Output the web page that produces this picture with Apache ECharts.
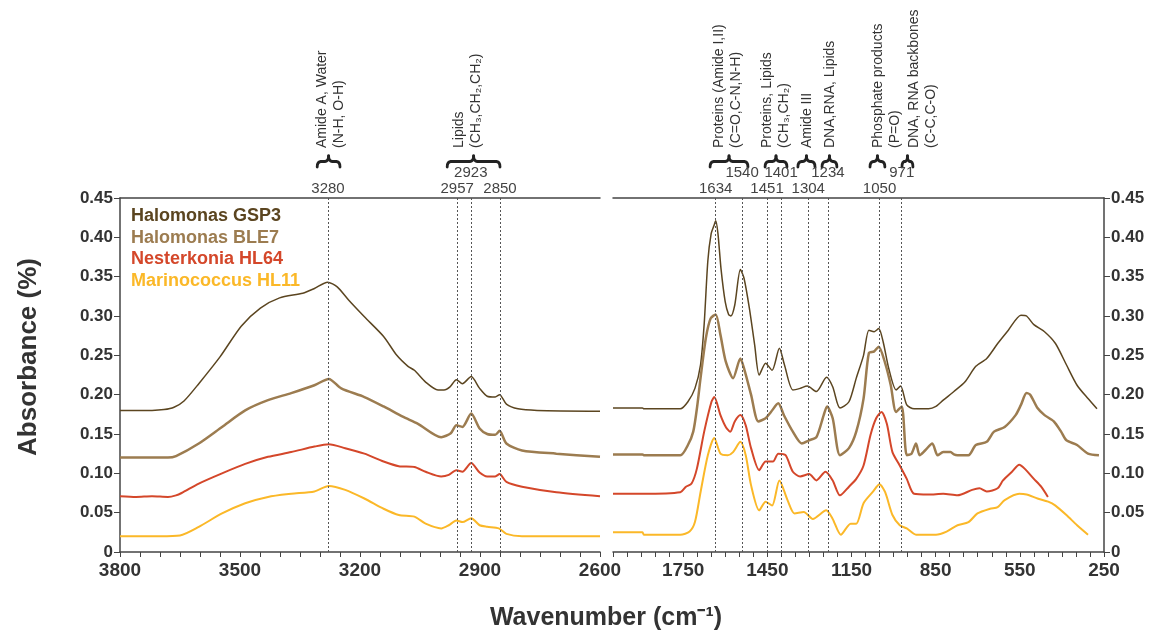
<!DOCTYPE html>
<html>
<head>
<meta charset="utf-8">
<script src="https://cdn.jsdelivr.net/npm/echarts@6/dist/echarts.min.js"></script>
<style>
html,body{margin:0;padding:0;background:#fff;}
#chart{width:1164px;height:632px;}
</style>
</head>
<body>
<div id="chart"></div>
<script>
// ---------- DATA ----------
const seriesNames = ['Halomonas GSP3', 'Halomonas BLE7', 'Nesterkonia HL64', 'Marinococcus HL11'];

// left panel (3800 - 2600 cm-1): [wavenumber, absorbance]
const gsp3Left = [[3800,0.180],[3720,0.180],[3690,0.181],[3665,0.184],[3640,0.192],[3603,0.214],[3550,0.248],[3497,0.287],[3449,0.310],[3401,0.323],[3343,0.329],[3314,0.335],[3281,0.343],[3257,0.337],[3228,0.320],[3189,0.299],[3141,0.274],[3108,0.250],[3080,0.236],[3064,0.231],[3036,0.216],[3005,0.206],[2990,0.206],[2975,0.210],[2959,0.219],[2944,0.214],[2922,0.223],[2901,0.208],[2882,0.198],[2862,0.197],[2851,0.200],[2834,0.188],[2805,0.182],[2757,0.180],[2600,0.179]];
const ble7Left = [[3800,0.120],[3680,0.120],[3660,0.122],[3603,0.138],[3545,0.159],[3487,0.180],[3430,0.193],[3372,0.202],[3314,0.212],[3278,0.220],[3247,0.208],[3189,0.197],[3141,0.185],[3093,0.172],[3055,0.163],[2997,0.146],[2973,0.151],[2959,0.161],[2944,0.159],[2922,0.176],[2901,0.157],[2882,0.150],[2862,0.149],[2851,0.154],[2834,0.138],[2795,0.129],[2709,0.125],[2600,0.121]];
const hl64Left = [[3800,0.071],[3760,0.070],[3720,0.071],[3680,0.070],[3660,0.072],[3646,0.075],[3603,0.087],[3545,0.100],[3487,0.112],[3430,0.121],[3372,0.127],[3314,0.134],[3278,0.137],[3237,0.132],[3189,0.125],[3141,0.115],[3103,0.109],[3064,0.108],[3036,0.102],[2997,0.096],[2978,0.098],[2959,0.104],[2944,0.102],[2922,0.113],[2901,0.101],[2882,0.096],[2862,0.096],[2851,0.099],[2834,0.089],[2795,0.083],[2709,0.076],[2600,0.071]];
const hl11Left = [[3800,0.020],[3700,0.020],[3650,0.021],[3603,0.032],[3545,0.049],[3487,0.062],[3430,0.070],[3372,0.074],[3314,0.077],[3278,0.084],[3237,0.079],[3189,0.068],[3141,0.055],[3103,0.047],[3064,0.045],[3036,0.036],[2997,0.030],[2978,0.034],[2959,0.040],[2944,0.038],[2922,0.043],[2901,0.034],[2882,0.032],[2853,0.030],[2834,0.023],[2795,0.020],[2600,0.020]];

// right panel (2000 - 250 cm-1)
const gsp3Right = [[2000,0.183],[1895,0.183],[1890,0.182],[1760,0.182],[1733,0.191],[1708,0.208],[1688,0.238],[1675,0.290],[1662,0.370],[1650,0.405],[1640,0.415],[1634,0.421],[1626,0.405],[1615,0.360],[1600,0.318],[1588,0.302],[1580,0.300],[1566,0.314],[1546,0.359],[1533,0.348],[1514,0.310],[1495,0.263],[1479,0.225],[1456,0.240],[1433,0.231],[1407,0.259],[1389,0.238],[1359,0.206],[1333,0.208],[1308,0.211],[1275,0.204],[1239,0.222],[1217,0.210],[1191,0.183],[1159,0.191],[1133,0.221],[1107,0.250],[1088,0.282],[1069,0.280],[1053,0.284],[1037,0.267],[1017,0.233],[991,0.206],[975,0.211],[953,0.187],[927,0.182],[875,0.182],[849,0.185],[823,0.193],[785,0.204],[746,0.216],[707,0.236],[668,0.246],[629,0.265],[591,0.282],[546,0.301],[526,0.300],[500,0.289],[462,0.280],[423,0.265],[384,0.238],[346,0.212],[307,0.195],[275,0.182]];
const ble7Right = [[2000,0.124],[1895,0.124],[1890,0.123],[1760,0.123],[1733,0.136],[1714,0.153],[1700,0.185],[1688,0.221],[1669,0.272],[1652,0.297],[1634,0.302],[1617,0.276],[1598,0.242],[1572,0.221],[1546,0.246],[1531,0.231],[1508,0.200],[1482,0.166],[1456,0.170],[1437,0.178],[1411,0.189],[1391,0.174],[1359,0.153],[1327,0.138],[1301,0.142],[1275,0.146],[1249,0.174],[1237,0.185],[1217,0.170],[1191,0.123],[1159,0.132],[1133,0.153],[1107,0.195],[1088,0.253],[1069,0.255],[1053,0.261],[1030,0.240],[1010,0.212],[991,0.178],[971,0.185],[953,0.123],[936,0.125],[920,0.138],[907,0.123],[888,0.129],[862,0.138],[843,0.123],[823,0.127],[797,0.127],[785,0.124],[772,0.123],[733,0.123],[707,0.136],[668,0.140],[642,0.153],[604,0.159],[565,0.174],[546,0.187],[526,0.202],[513,0.200],[487,0.183],[462,0.174],[429,0.166],[403,0.153],[384,0.142],[346,0.136],[307,0.125],[268,0.123]];
const hl64Right = [[2000,0.074],[1895,0.074],[1760,0.076],[1740,0.083],[1720,0.087],[1701,0.106],[1675,0.153],[1649,0.191],[1639,0.197],[1617,0.174],[1598,0.159],[1582,0.153],[1566,0.166],[1546,0.174],[1527,0.161],[1508,0.132],[1479,0.104],[1456,0.115],[1430,0.115],[1411,0.125],[1385,0.123],[1359,0.102],[1333,0.096],[1301,0.099],[1275,0.091],[1243,0.102],[1217,0.091],[1191,0.072],[1159,0.083],[1133,0.093],[1107,0.110],[1082,0.149],[1062,0.170],[1043,0.178],[1024,0.163],[1004,0.127],[978,0.110],[953,0.093],[927,0.074],[875,0.073],[823,0.074],[772,0.072],[720,0.079],[694,0.081],[668,0.077],[629,0.081],[610,0.091],[578,0.102],[552,0.111],[533,0.106],[500,0.093],[474,0.083],[450,0.070]];
const hl11Right = [[2000,0.025],[1895,0.025],[1890,0.022],[1760,0.022],[1727,0.026],[1708,0.038],[1688,0.076],[1662,0.123],[1639,0.145],[1617,0.125],[1591,0.123],[1572,0.127],[1546,0.140],[1527,0.123],[1508,0.085],[1479,0.053],[1456,0.064],[1433,0.059],[1407,0.091],[1378,0.066],[1353,0.049],[1320,0.051],[1288,0.042],[1240,0.053],[1217,0.042],[1188,0.022],[1153,0.036],[1133,0.036],[1107,0.062],[1075,0.076],[1050,0.086],[1030,0.076],[1004,0.047],[978,0.034],[953,0.030],[920,0.022],[849,0.022],[811,0.026],[772,0.034],[733,0.038],[701,0.049],[656,0.055],[629,0.057],[604,0.066],[552,0.074],[526,0.073],[487,0.068],[449,0.064],[423,0.059],[384,0.047],[346,0.034],[307,0.022]];

// marked peaks (lower row / upper row)
const peaksLeftLow = [3280, 2957, 2850];
const peaksLeftHigh = [2923];
const peaksRightLow = [1634, 1451, 1304, 1050];
const peaksRightHigh = [1540, 1401, 1234, 971];

// tick label sets
const leftTickLabels = [3800, 3500, 3200, 2900, 2600];
const rightTickLabels = [1750, 1450, 1150, 850, 550, 250];

// band assignments
const bandLabels = [
  {panel: 0, from: 3307, to: 3250, lines: ['Amide A, Water', '(N-H, O-H)']},
  {panel: 0, from: 2982, to: 2850, lines: ['Lipids', '(CH\u2083,CH\u2082,CH\u2082)']},
  {panel: 1, from: 1654, to: 1519, lines: ['Proteins (Amide I,II)', '(C=O,C-N,N-H)']},
  {panel: 1, from: 1458, to: 1380, lines: ['Proteins, Lipids', '(CH\u2083,CH\u2082)']},
  {panel: 1, from: 1341, to: 1280, lines: ['Amide III']},
  {panel: 1, from: 1255, to: 1202, lines: ['DNA,RNA, Lipids']},
  {panel: 1, from: 1084, to: 1031, lines: ['Phosphate products', '(P=O)']},
  {panel: 1, from: 970, to: 931, lines: ['DNA, RNA backbones', '(C-C,C-O)']}
];
// pixel offset of first text column from brace start (style)
const bandTextOffset = [5, 12, 9, 2, 9, 8, 8, 12];

// ---------- STYLE ----------
const FONT = 'Liberation Sans, Arial, Helvetica, sans-serif';
const colors = ['#5b4520', '#9c7c50', '#d4472a', '#fbb828'];
const widths = [1.5, 2.5, 2, 2];
const axisColor = '#444';

const chart = echarts.init(document.getElementById('chart'), null, {renderer: 'canvas'});

function xAxisBottom(grid, min, max, labels) {
  return {
    type: 'value', gridIndex: grid, min: min, max: max, inverse: true, interval: 50,
    position: 'bottom',
    axisLine: {show: true, onZero: false, lineStyle: {color: axisColor, width: 1.5}},
    axisTick: {show: true, length: 5, lineStyle: {color: axisColor, width: 1}},
    axisLabel: {
      show: true, margin: 9, color: '#333', fontSize: 19, fontWeight: 'bold', fontFamily: FONT,
      showMinLabel: true, showMaxLabel: true,
      formatter: function (v) { return labels.indexOf(Math.round(v)) >= 0 ? String(Math.round(v)) : ''; }
    },
    splitLine: {show: false}
  };
}
function xAxisTop(grid, min, max) {
  return {
    type: 'value', gridIndex: grid, min: min, max: max, inverse: true, position: 'top',
    axisLine: {show: true, onZero: false, lineStyle: {color: axisColor, width: 1.5}},
    axisTick: {show: false}, axisLabel: {show: false}, splitLine: {show: false}
  };
}
function yAxisDef(grid, pos) {
  return {
    type: 'value', gridIndex: grid, min: 0, max: 0.45, interval: 0.05, position: pos,
    axisLine: {show: true, onZero: false, lineStyle: {color: axisColor, width: 1.5}},
    axisTick: {show: true, length: 6, lineStyle: {color: axisColor, width: 1}},
    axisLabel: {
      show: true, margin: 7, color: '#333', fontSize: 17, fontWeight: 'bold', fontFamily: FONT,
      formatter: function (v) { return v === 0 ? '0' : v.toFixed(2); }
    },
    splitLine: {show: false}
  };
}

function peakMarks(low, high) {
  const d = [];
  low.forEach(function (w) { d.push({xAxis: w, label: {distance: 2}}); });
  high.forEach(function (w) { d.push({xAxis: w, label: {distance: 18}}); });
  return {
    silent: true, symbol: ['none', 'none'],
    lineStyle: {type: [2, 2], color: '#555', width: 1},
    label: {show: true, position: 'end', color: '#444', fontSize: 15, fontFamily: FONT,
      formatter: function (p) { return String(p.value); }},
    data: d
  };
}

const leftData = [gsp3Left, ble7Left, hl64Left, hl11Left];
const rightData = [gsp3Right, ble7Right, hl64Right, hl11Right];
const series = [];
seriesNames.forEach(function (name, i) {
  const base = {
    name: name, type: 'line', showSymbol: false, symbol: 'none', smooth: 0.25,
    lineStyle: {color: colors[i], width: widths[i]}, itemStyle: {color: colors[i]},
    animation: false, silent: true
  };
  const l = Object.assign({}, base, {xAxisIndex: 0, yAxisIndex: 0, data: leftData[i]});
  const r = Object.assign({}, base, {xAxisIndex: 1, yAxisIndex: 1, data: rightData[i]});
  if (i === 0) {
    l.markLine = peakMarks(peaksLeftLow, peaksLeftHigh);
    r.markLine = peakMarks(peaksRightLow, peaksRightHigh);
  }
  series.push(l, r);
});

const option = {
  backgroundColor: '#fff',
  animation: false,
  grid: [
    {left: 120, top: 198, width: 480, height: 354},
    {left: 613, top: 198, width: 491, height: 354}
  ],
  xAxis: [
    xAxisBottom(0, 2600, 3800, leftTickLabels),
    xAxisBottom(1, 250, 2000, rightTickLabels),
    xAxisTop(0, 2600, 3800),
    xAxisTop(1, 250, 2000)
  ],
  yAxis: [yAxisDef(0, 'left'), yAxisDef(1, 'right')],
  legend: {
    orient: 'vertical', left: 121, top: 201, itemWidth: 0, itemHeight: 21, itemGap: 0.5,
    selectedMode: false, icon: 'rect',
    textStyle: {fontSize: 18, fontWeight: 'bold', fontFamily: FONT},
    data: seriesNames.map(function (n, i) { return {name: n, textStyle: {color: colors[i]}}; })
  },
  series: series
};
chart.setOption(option);

// ---------- annotations placed from the axis scales ----------
const g = [];
const textStyle = {font: '14px ' + FONT, fill: '#333', align: 'left', verticalAlign: 'middle'};
bandLabels.forEach(function (b, k) {
  const x1 = chart.convertToPixel({xAxisIndex: b.panel}, b.from);
  const x2 = chart.convertToPixel({xAxisIndex: b.panel}, b.to);
  const xm = (x1 + x2) / 2, yb = 167, ym = 161.5, yt = 156;
  const st = {stroke: '#222', lineWidth: 2.8, fill: null, lineCap: 'round'};
  const r = Math.min(4, (x2 - x1) / 4);
  g.push({type: 'bezierCurve', shape: {x1: x1, y1: yb, cpx1: x1, cpy1: ym, x2: x1 + r, y2: ym}, style: st});
  g.push({type: 'line', shape: {x1: x1 + r, y1: ym, x2: xm - r, y2: ym}, style: st});
  g.push({type: 'bezierCurve', shape: {x1: xm - r, y1: ym, cpx1: xm, cpy1: ym, x2: xm, y2: yt}, style: st});
  g.push({type: 'bezierCurve', shape: {x1: xm, y1: yt, cpx1: xm, cpy1: ym, x2: xm + r, y2: ym}, style: st});
  g.push({type: 'line', shape: {x1: xm + r, y1: ym, x2: x2 - r, y2: ym}, style: st});
  g.push({type: 'bezierCurve', shape: {x1: x2 - r, y1: ym, cpx1: x2, cpy1: ym, x2: x2, y2: yb}, style: st});
  b.lines.forEach(function (t, j) {
    g.push({type: 'text', x: x1 + bandTextOffset[k] + j * 17, y: 148, rotation: Math.PI / 2,
      style: Object.assign({text: t}, textStyle)});
  });
});
g.push({type: 'text', x: 29, y: 357, rotation: Math.PI / 2,
  style: {text: 'Absorbance (%)', font: 'bold 26px ' + FONT, fill: '#333', align: 'center', verticalAlign: 'middle'}});
g.push({type: 'text', x: 606, y: 618,
  style: {text: 'Wavenumber (cm\u207B\u00B9)', font: 'bold 25px ' + FONT, fill: '#333', align: 'center', verticalAlign: 'middle'}});
chart.setOption({graphic: {elements: g}});
</script>
</body>
</html>
